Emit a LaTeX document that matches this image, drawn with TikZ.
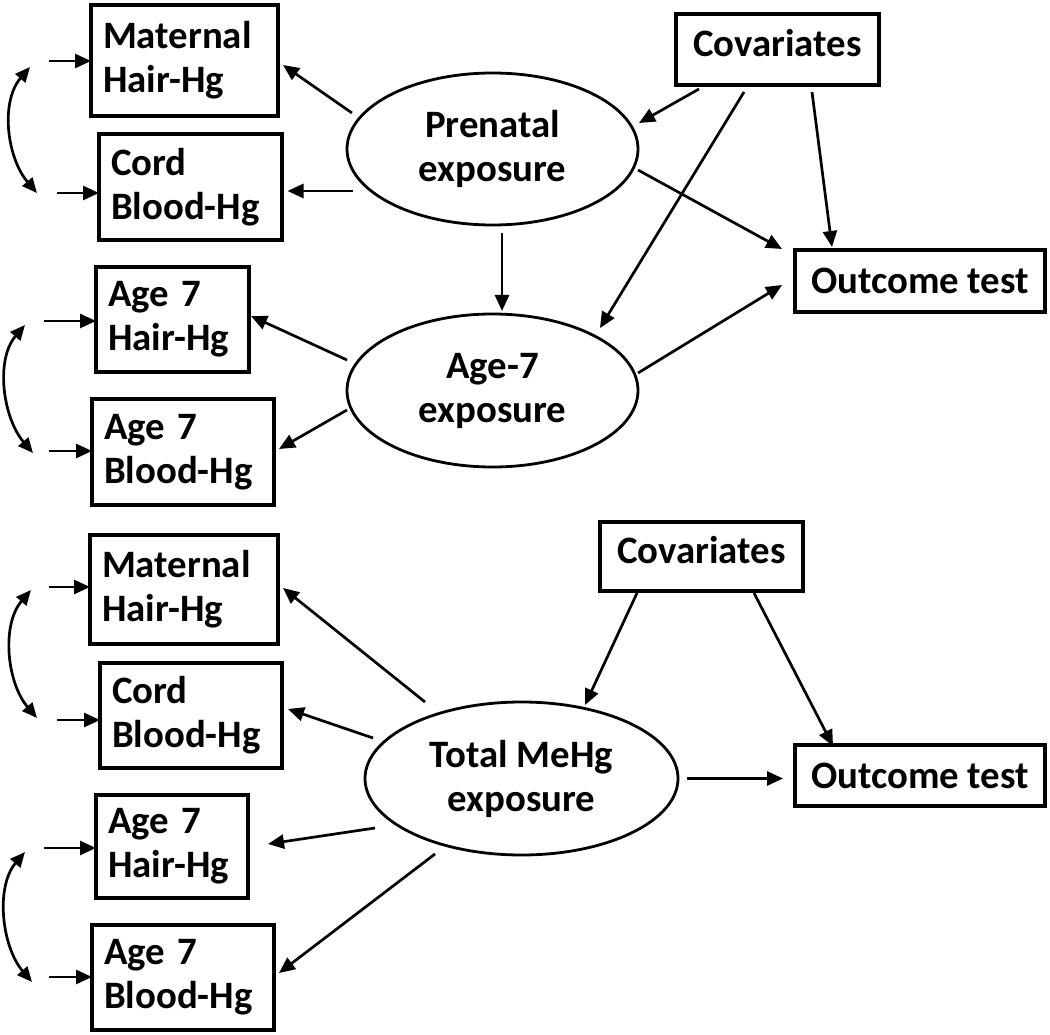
\documentclass[tikz,border=0pt]{standalone}
\usepackage{fontspec}
\setmainfont{Carlito}
\usetikzlibrary{shapes.geometric,arrows.meta}
\begin{document}
\begin{tikzpicture}[x=1pt,y=-1pt,
  every node/.style={font=\fontsize{38.8}{44}\selectfont\bfseries, outer sep=0pt},
  mbox/.style n args={3}{draw, line width=3.3pt, rectangle, align=left, inner xsep=12pt, inner ysep=0pt,
     minimum width=#1, text width=#2, minimum height=#3},
  cbox/.style n args={2}{draw, line width=3.3pt, rectangle, align=center, inner sep=0pt,
     minimum width=#1, minimum height=#2},
  latent/.style n args={2}{draw, line width=2.8pt, ellipse, align=center, inner sep=0pt,
     minimum width=#1, minimum height=#2},
  arr/.style={line width=2.7pt, -{Triangle[length=16pt,width=14pt]}},
  darr/.style={line width=2.7pt, {Triangle[length=15pt,width=13pt]}-{Triangle[length=15pt,width=13pt]}}
]
\useasboundingbox (0,0) rectangle (1050,1035);

% ---------- top model ----------
\node[mbox={187pt}{163pt}{111pt}] (b1) at (184.5,60.5) {Maternal\\Hair-Hg};
\node[mbox={183pt}{159pt}{106pt}] (b2) at (190.5,187) {Cord\\Blood-Hg};
\node[mbox={153pt}{129pt}{105pt}] (b3) at (172.5,319.5) {Age 7\\Hair-Hg};
\node[mbox={182pt}{158pt}{106pt}] (b4) at (183,452) {Age 7\\Blood-Hg};
\node[latent={291pt}{152pt}] (pre) at (492.5,149) {Prenatal\\exposure};
\node[latent={291pt}{153pt}] (age) at (492.5,390.5) {Age-7\\exposure};
\node[cbox={203pt}{71pt}, text depth=14pt] (cov1) at (777.5,49.5) {Covariates};
\node[cbox={250pt}{62pt}] (out1) at (920,281) {Outcome test};

\draw[arr] ([shift={(5,-36)}]pre.west) -- ([shift={(5,4.5)}]b1.east);
\draw[arr] ([shift={(6,42)}]pre.west) -- ([shift={(5.5,4)}]b2.east);
\draw[arr] ([shift={(0,-30.5)}]age.west) -- ([shift={(2,-3.5)}]b3.east);
\draw[arr] ([shift={(0,19.5)}]age.west) -- ([shift={(5,-3)}]b4.east);
\draw[arr] ([shift={(9.5,8)}]pre.south) -- ([shift={(9.5,-3)}]age.north);
\draw[arr] ([shift={(-78.5,4)}]cov1.south) -- ([shift={(1,-26)}]pre.east);
\draw[arr] ([shift={(-33.5,7)}]cov1.south) -- ([shift={(107.5,14)}]age.north);
\draw[arr] ([shift={(34.5,7)}]cov1.south) -- ([shift={(-88,-3)}]out1.north);
\draw[arr] ([shift={(0,21)}]pre.east) -- ([shift={(-13,-32)}]out1.west);
\draw[arr] ([shift={(0,-17.5)}]age.east) -- ([shift={(-13,4)}]out1.west);

\coordinate (e1) at (49,61);
\coordinate (e2) at (57,193);
\coordinate (e3) at (44,321);
\coordinate (e4) at (49,451);
\draw[arr] (e1) -- (e1 -| b1.west);
\draw[arr] (e2) -- (e2 -| b2.west);
\draw[arr] (e3) -- (e3 -| b3.west);
\draw[arr] (e4) -- (e4 -| b4.west);

\coordinate (c1a) at (30,67);
\coordinate (c1b) at (37,193);
\coordinate (c2a) at (25,325);
\coordinate (c2b) at (33,453);
\draw[darr] (c1a) .. controls +(-30,35) and +(-30,-35) .. (c1b);
\draw[darr] (c2a) .. controls +(-30,35) and +(-30,-35) .. (c2b);

% ---------- bottom model ----------
\node[mbox={188pt}{164pt}{109pt}] (b5) at (184,589.5) {Maternal\\Hair-Hg};
\node[mbox={182pt}{158pt}{105pt}] (b6) at (191,715.5) {Cord\\Blood-Hg};
\node[mbox={152pt}{128pt}{103pt}] (b7) at (172,846.5) {Age 7\\Hair-Hg};
\node[mbox={182pt}{158pt}{105pt}] (b8) at (183,977.5) {Age 7\\Blood-Hg};
\node[latent={313pt}{153pt}] (tot) at (521.5,778.5) {Total MeHg\\exposure};
\node[cbox={203pt}{69pt}, text depth=14pt] (cov2) at (701.5,556.5) {Covariates};
\node[cbox={250pt}{61pt}] (out2) at (920,775.5) {Outcome test};

\draw[arr] ([shift={(-96.5,0)}]tot.north) -- ([shift={(5,-1.5)}]b5.east);
\draw[arr] ([shift={(8,-40.5)}]tot.west) -- ([shift={(6,-6.5)}]b6.east);
\draw[arr] ([shift={(10,49.5)}]tot.west) -- ([shift={(20,-2.5)}]b7.east);
\draw[arr] ([shift={(-86.5,-1)}]tot.south) -- ([shift={(5,-4.5)}]b8.east);
\draw[arr] ([shift={(-64.5,2)}]cov2.south) -- ([shift={(63.5,3)}]tot.north);
\draw[arr] ([shift={(52.5,2)}]cov2.south) -- ([shift={(-87,1)}]out2.north);
\draw[arr] ([shift={(9,0)}]tot.east) -- ([shift={(-12,3)}]out2.west);

\coordinate (e5) at (49,587);
\coordinate (e6) at (57,720);
\coordinate (e7) at (44,848);
\coordinate (e8) at (49,977);
\draw[arr] (e5) -- (e5 -| b5.west);
\draw[arr] (e6) -- (e6 -| b6.west);
\draw[arr] (e7) -- (e7 -| b7.west);
\draw[arr] (e8) -- (e8 -| b8.west);

\coordinate (c3a) at (31,590);
\coordinate (c3b) at (37,718);
\coordinate (c4a) at (25,852);
\coordinate (c4b) at (32,982);
\draw[darr] (c3a) .. controls +(-30,35) and +(-30,-35) .. (c3b);
\draw[darr] (c4a) .. controls +(-30,35) and +(-30,-35) .. (c4b);
\end{tikzpicture}
\end{document}
